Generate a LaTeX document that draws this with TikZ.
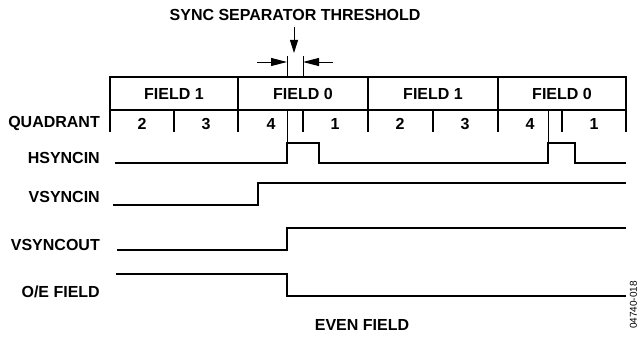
\documentclass[tikz,border=0pt]{standalone}
\usepackage{fontspec}
\setmainfont{Liberation Sans}
\usetikzlibrary{arrows.meta}

\tikzset{
	heavy/.style={line width=2pt},
	hair/.style={line width=1pt},
	lbl/.style={font=\fontsize{16}{19}\selectfont\bfseries, inner sep=0pt},
	signame/.style={lbl, anchor=east},
	dimarrow/.style={hair, -{Triangle[length=16pt,width=8pt]}},
	downarrow/.style={hair, -{Triangle[length=13pt,width=8pt]}}
}

\begin{document}
\begin{tikzpicture}[x=1pt, y=-1pt]
			\useasboundingbox (0,0) rectangle (639,337);%
			%
			\node[lbl] (title) at (295,15) {SYNC SEPARATOR THRESHOLD};%
			%
			% threshold window
			\coordinate (thrL) at (287,62);%
			\coordinate (thrR) at (303,62);%
			\coordinate (thrL0) at (257,62);%
			\coordinate (thrR0) at (333,62);%
			\coordinate (thrtop) at (294,27);%
			\coordinate (thrtip) at (294,53);%
			\draw[dimarrow] (thrL0) -- (thrL);%
			\draw[dimarrow] (thrR0) -- (thrR);%
			\draw[downarrow] (thrtop) -- (thrtip);%
			\draw[hair] (287,56) -- (287,77);%
			\draw[hair] (303,56) -- (303,77);%
			%
			% field / quadrant table
			\draw[heavy] (110,77) -- (626,77);%
			\draw[heavy] (110,110) -- (626,110);%
			\foreach \x in {110,238,368,498,626}
				\draw[heavy] (\x,76) -- (\x,132);%
			\foreach \x in {174,303,433,562}
				\draw[heavy] (\x,110) -- (\x,132);%
			\draw[hair] (287,110) -- (287,143);%
			\draw[hair] (548,110) -- (548,143);%
			%
			\node[lbl] (field1a) at (174,94) {FIELD 1};%
			\node[lbl] (field0a) at (303,94) {FIELD 0};%
			\node[lbl] (field1b) at (433,94) {FIELD 1};%
			\node[lbl] (field0b) at (562,94) {FIELD 0};%
			%
			\node[lbl] (q2a) at (142,124) {2};%
			\node[lbl] (q3a) at (206,124) {3};%
			\node[lbl] (q4a) at (271,124) {4};%
			\node[lbl] (q1a) at (335,124) {1};%
			\node[lbl] (q2b) at (400,124) {2};%
			\node[lbl] (q3b) at (465,124) {3};%
			\node[lbl] (q4b) at (530,124) {4};%
			\node[lbl] (q1b) at (594,124) {1};%
			%
			% signal names
			\node[signame] (quadrant) at (100,123) {QUADRANT};%
			\node[signame] (hsyncin) at (100,158) {HSYNCIN};%
			\node[signame] (vsyncin) at (100,197) {VSYNCIN};%
			\node[signame] (vsyncout) at (100,245) {VSYNCOUT};%
			\node[signame] (oefield) at (100,292) {O/E FIELD};%
			%
			% waveforms
			\draw[heavy] (115,163) -- (287,163) -- (287,143) -- (319,143) -- (319,163)
				-- (548,163) -- (548,143) -- (575,143) -- (575,163) -- (626,163);%
			\draw[heavy] (113,205) -- (258,205) -- (258,183) -- (626,183);%
			\draw[heavy] (117,250) -- (287,250) -- (287,228) -- (626,228);%
			\draw[heavy] (116,274) -- (287,274) -- (287,296) -- (626,296);%
			%
			\node[lbl] (even) at (362,325) {EVEN FIELD};%
			\node[inner sep=0pt, rotate=90, font=\fontsize{10}{12}\selectfont] (figno) at (633.5,305) {04740-018};%
\end{tikzpicture}
\end{document}
